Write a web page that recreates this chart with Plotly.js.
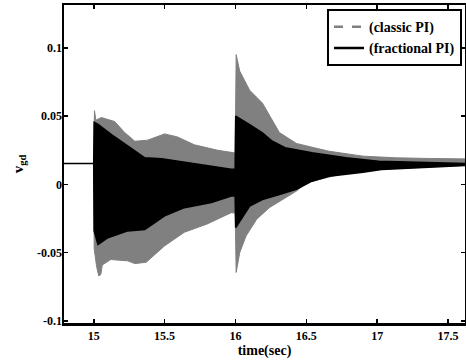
<!DOCTYPE html>
<html>
<head>
<meta charset="utf-8">
<script src="https://cdn.plot.ly/plotly-3.0.1.min.js"></script>
<style>html,body{margin:0;padding:0;background:#fff;}#chart{width:466px;height:360px;}</style>
</head>
<body>
<div id="chart"></div>
<script>
// Envelope (upper / lower) of the oscillating v_gd signal
// classic PI
var tClassicUp = [14.79, 15.0, 15.005, 15.015, 15.054, 15.148, 15.218, 15.29, 15.38, 15.5, 15.59, 15.71, 15.875, 15.98, 15.998, 16.005, 16.03, 16.1, 16.19, 16.31, 16.43, 16.55, 16.66, 16.9, 17.13, 17.37, 17.62];
var vClassicUp = [0.0153, 0.0153, 0.054, 0.047, 0.049, 0.046, 0.038, 0.0316, 0.0324, 0.037, 0.0348, 0.029, 0.025, 0.023, 0.023, 0.095, 0.083, 0.069, 0.0596, 0.038, 0.030, 0.027, 0.0243, 0.0207, 0.0195, 0.019, 0.0187];
var tClassicLo = [14.79, 15.0, 15.003, 15.02, 15.035, 15.05, 15.06, 15.12, 15.24, 15.29, 15.37, 15.5, 15.64, 15.8, 15.97, 15.998, 16.005, 16.03, 16.075, 16.15, 16.24, 16.33, 16.43, 16.5, 16.54, 16.78, 17.01, 17.25, 17.62];
var vClassicLo = [0.0153, 0.0153, -0.047, -0.06, -0.067, -0.066, -0.059, -0.055, -0.056, -0.058, -0.057, -0.045, -0.035, -0.029, -0.0207, -0.021, -0.0645, -0.05, -0.0377, -0.0255, -0.017, -0.011, -0.0049, 0.0012, 0.0024, 0.0085, 0.011, 0.0122, 0.0139];
// fractional PI
var tFracUp = [14.79, 15.0, 15.003, 15.03, 15.125, 15.24, 15.36, 15.48, 15.59, 15.76, 15.97, 15.998, 16.002, 16.1, 16.19, 16.26, 16.35, 16.54, 16.78, 17.01, 17.25, 17.62];
var vFracUp = [0.0153, 0.0153, 0.0455, 0.044, 0.0365, 0.028, 0.0195, 0.0187, 0.017, 0.0139, 0.011, 0.011, 0.050, 0.0438, 0.0377, 0.0316, 0.0268, 0.0231, 0.0195, 0.017, 0.0163, 0.0153];
var tFracLo = [14.79, 15.0, 15.003, 15.03, 15.1, 15.24, 15.36, 15.5, 15.64, 15.83, 15.97, 15.998, 16.002, 16.1, 16.19, 16.31, 16.43, 16.54, 16.66, 16.9, 17.03, 17.25, 17.62];
var vFracLo = [0.0153, 0.0153, -0.034, -0.044, -0.039, -0.034, -0.033, -0.023, -0.017, -0.0133, -0.0085, -0.0085, -0.0316, -0.0158, -0.011, -0.0073, -0.0036, 0.0024, 0.006, 0.009, 0.011, 0.0122, 0.0139];

var seriesNames = ['(classic PI)', '(fractional PI)'];
var xTicks = [15, 15.5, 16, 16.5, 17, 17.5];
var xTickText = ['15', '15.5', '16', '16.5', '17', '17.5'];
var yTicks = [-0.1, -0.05, 0, 0.05, 0.1];
var yTickText = ['-0.1', '-0.05', '0', '0.05', '0.1'];

function band(tu, vu, tl, vl) {
  return {
    x: tu.concat(tl.slice().reverse()),
    y: vu.concat(vl.slice().reverse())
  };
}
var gB = band(tClassicUp, vClassicUp, tClassicLo, vClassicLo);
var fB = band(tFracUp, vFracUp, tFracLo, vFracLo);

var FONT = 'Liberation Serif, Times New Roman, serif';
var data = [
  {x: gB.x, y: gB.y, type: 'scatter', mode: 'lines', fill: 'toself', fillcolor: '#808080',
   line: {color: '#808080', width: 1}, showlegend: false, hoverinfo: 'skip'},
  {x: fB.x, y: fB.y, type: 'scatter', mode: 'lines', fill: 'toself', fillcolor: '#000000',
   line: {color: '#000000', width: 1.6}, showlegend: false, hoverinfo: 'skip'},
  {x: [null], y: [null], type: 'scatter', mode: 'lines', name: seriesNames[0],
   line: {color: '#808080', width: 2.5, dash: 'dash'}},
  {x: [null], y: [null], type: 'scatter', mode: 'lines', name: seriesNames[1],
   line: {color: '#000000', width: 2.5}}
];

var axisCommon = {
  showgrid: false, zeroline: false, showline: true, linecolor: '#000', linewidth: 2.5,
  mirror: 'ticks', ticks: 'inside', ticklen: 4, tickwidth: 1.5, tickcolor: '#000',
  tickfont: {family: FONT, size: 12, color: '#000', weight: 'bold'}
};

var layout = {
  width: 466, height: 360,
  margin: {l: 64, r: 1, t: 5, b: 37},
  paper_bgcolor: '#fff', plot_bgcolor: '#fff',
  font: {family: FONT, color: '#000'},
  xaxis: Object.assign({}, axisCommon, {
    range: [14.79, 17.62], tickmode: 'array', tickvals: xTicks, ticktext: xTickText,
    title: {text: '<b>time(sec)</b>', font: {family: FONT, size: 14, color: '#000'}, standoff: 0}
  }),
  yaxis: Object.assign({}, axisCommon, {
    range: [-0.1015, 0.1314], tickmode: 'array', tickvals: yTicks, ticktext: yTickText,
    ticklabelstandoff: -3,
    title: {text: '<b>v<sub>gd</sub></b>', font: {family: FONT, size: 15, color: '#000'}, standoff: 10}
  }),
  legend: {
    x: 0.9925, xanchor: 'right', y: 0.987, yanchor: 'top',
    bgcolor: '#fff', bordercolor: '#000', borderwidth: 2,
    font: {family: FONT, size: 14, color: '#000', weight: 'bold'},
    tracegroupgap: 0, itemwidth: 30
  },
  showlegend: true
};

Plotly.newPlot('chart', data, layout, {displayModeBar: false, staticPlot: true});
</script>
</body>
</html>
